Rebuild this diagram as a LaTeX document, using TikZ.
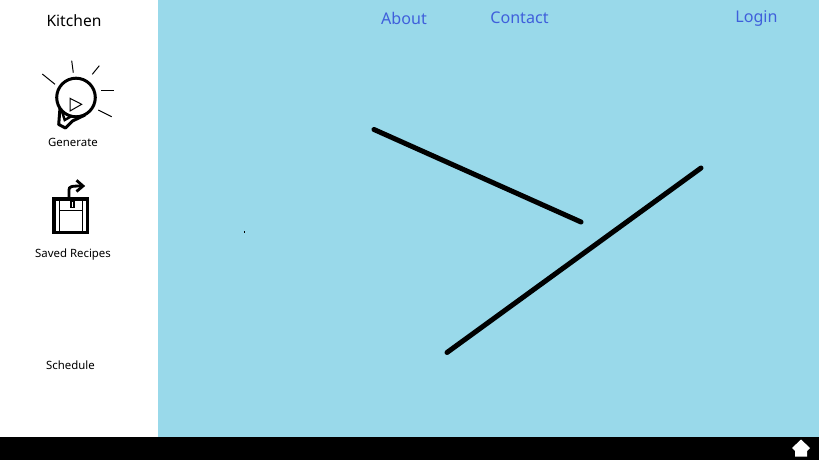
\documentclass[tikz,border=0pt]{standalone}
\usepackage{fontspec}
\setmainfont{Noto Sans}
\definecolor{sky}{HTML}{99D9EA}
\definecolor{linkblue}{HTML}{3F5FDB}
\tikzset{
 navlink/.style={text=linkblue,font=\fontsize{16.1}{18}\selectfont,inner sep=0pt,anchor=center},
 sidelabel/.style={text=black,font=\fontsize{11.4}{13}\selectfont,inner sep=0pt,anchor=center},
 thickstroke/.style={line width=5pt,line cap=round,black},
 icon/.style={line width=3pt,black,line join=round},
 thinray/.style={line width=1pt,black}
}
\begin{document}
\begin{tikzpicture}[x=1pt,y=-1pt]
\useasboundingbox (0,0) rectangle (819,460);
\fill[white] (0,0) rectangle (819,460);
\fill[sky] (158,0) rectangle (819,437);
\fill[black] (0,437) rectangle (819,460);
% text
\node[sidelabel,font=\fontsize{15.6}{18}\selectfont] (kitchen) at (74,20.5) {Kitchen};
\node[sidelabel] (generate) at (73,142.3) {Generate};
\node[sidelabel] (saved) at (73,254.5) {Saved Recipes};
\node[sidelabel] (schedule) at (70.5,365.2) {Schedule};
\node[navlink] (about) at (404,18.5) {About};
\node[navlink] (contact) at (519.5,17.5) {Contact};
\node[navlink] (login) at (756.5,19) {Login};
% strokes
\coordinate (a1) at (374,129.5);
\coordinate (a2) at (581,222);
\coordinate (b1) at (447,352.5);
\coordinate (b2) at (701,168);
\draw[thickstroke] (a1) -- (a2);
\draw[thickstroke] (b1) -- (b2);
\fill[black] (243.5,231) rectangle (245,232.5);
% bulb
\draw[icon] (76,97.5) circle (19.3);
\draw[icon] (60,108) -- (58.7,124.5) -- (65.5,128) -- (72.5,121) -- (85,115);
\draw[line width=2.4pt,black] (62,111.5) -- (64.7,120) -- (71,116.5);
\draw[thinray] (70,98.3) -- (70,111) -- (81.7,104.3) -- cycle;
\draw[thinray] (42.3,74) -- (55,84.3);
\draw[thinray] (71.7,60.7) -- (73.3,72.7);
\draw[thinray] (99.3,65.7) -- (92.3,74.3);
\draw[thinray] (101.3,90) -- (114,90);
\draw[thinray] (98.3,110) -- (111.7,116.7);
% floppy
\draw[line width=3.6pt,black] (54,199) rectangle (87.5,232.5);
\draw[line width=1pt,black] (59.5,199) -- (59.5,232);
\draw[line width=1pt,black] (82,199) -- (82,232);
\draw[line width=1.8pt,black] (59.5,210.5) -- (82,210.5);
\fill[black] (70,201) rectangle (75,208);
\fill[white] (71.7,202) rectangle (73.3,207);
\draw[line width=2.8pt,black] (69,198) -- (69,190) .. controls (69,186.5) and (71,186) .. (82,186);
\draw[line width=2.8pt,black] (76.5,180.3) -- (83,186) -- (76.5,191.5);
% home arrow
\fill[white] (801,439.5) -- (810,448) -- (807,451) -- (807,456.5) -- (795,456.5) -- (795,451) -- (792,448) -- cycle;
\end{tikzpicture}
\end{document}
